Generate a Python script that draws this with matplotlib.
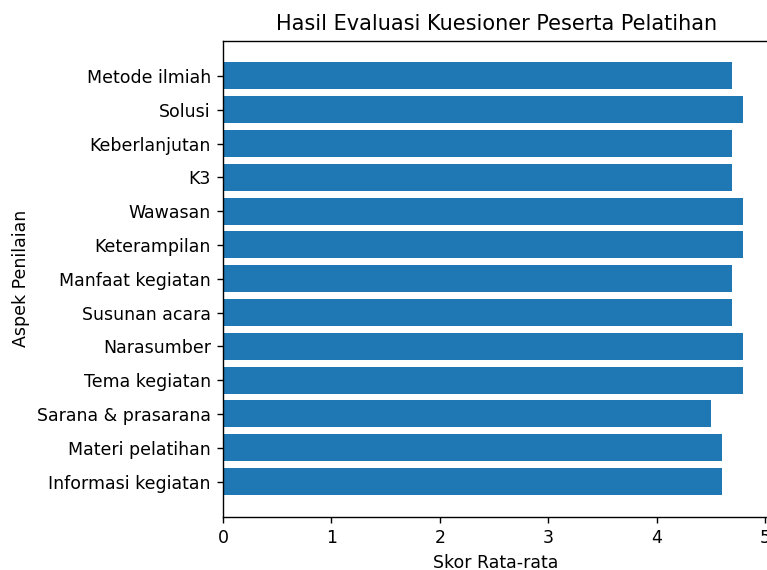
import matplotlib
matplotlib.use("Agg")
import matplotlib.pyplot as plt

# Data evaluasi kuesioner (urutan dari bawah ke atas)
aspek = [
    "Informasi kegiatan", "Materi pelatihan", "Sarana & prasarana",
    "Tema kegiatan", "Narasumber", "Susunan acara", "Manfaat kegiatan",
    "Keterampilan", "Wawasan", "K3", "Keberlanjutan", "Solusi", "Metode ilmiah",
]
skor = [4.6, 4.6, 4.5, 4.8, 4.8, 4.7, 4.7, 4.8, 4.8, 4.7, 4.7, 4.8, 4.7]

DPI = 125
fig = plt.figure(figsize=(767 / DPI, 570 / DPI), dpi=DPI)
ax = fig.add_axes([0.2907, 0.0935, 0.7123, 0.835])
ax.barh(aspek, skor, color="#1f77b4")
ax.set_title("Hasil Evaluasi Kuesioner Peserta Pelatihan")
ax.set_xlabel("Skor Rata-rata")
ax.set_ylabel("Aspek Penilaian")

fig.savefig("out.png", dpi=DPI)
